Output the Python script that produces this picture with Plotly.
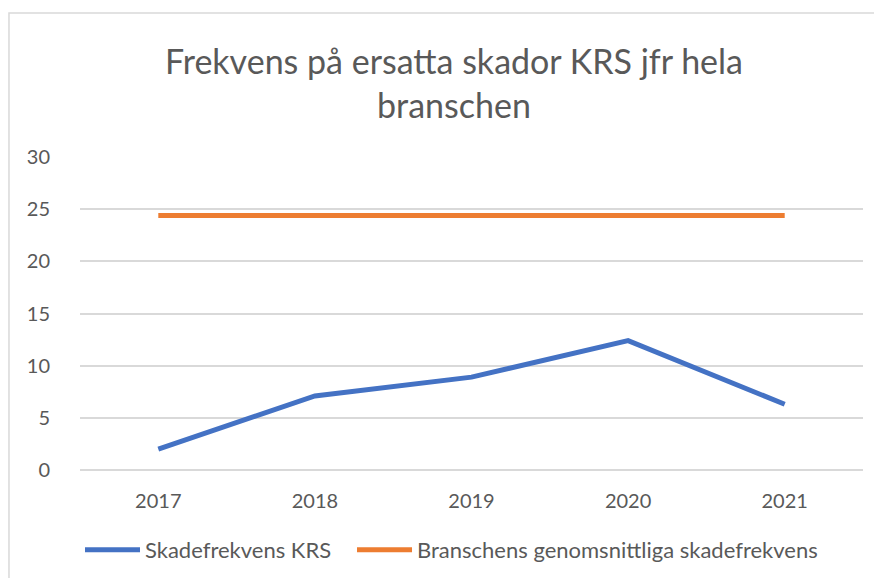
import plotly.graph_objects as go

years = ["2017", "2018", "2019", "2020", "2021"]
krs = [2.0, 7.1, 8.9, 12.4, 6.3]
bransch = [24.4, 24.4, 24.4, 24.4, 24.4]
y_ticks = [0, 5, 10, 15, 20, 25, 30]

font_family = "Lato, 'Open Sans', sans-serif"
grey_text = "#595959"

fig = go.Figure()
fig.add_trace(go.Scatter(x=years, y=krs, mode="lines", name="Skadefrekvens KRS",
                         line=dict(color="#4472C4", width=5), legend="legend"))
fig.add_trace(go.Scatter(x=years, y=bransch, mode="lines",
                         name="Branschens genomsnittliga skadefrekvens",
                         line=dict(color="#ED7D31", width=5), legend="legend2"))

legend_common = dict(orientation="h", xanchor="left", yref="container",
                     y=0.049, yanchor="middle",
                     font=dict(size=22, color=grey_text), itemwidth=55)

fig.update_layout(
    width=866, height=570,
    paper_bgcolor="white", plot_bgcolor="white",
    margin=dict(l=72, r=11, t=149, b=108),
    font=dict(family=font_family, color=grey_text, size=20),
    title=dict(text="Frekvens på ersatta skador KRS jfr hela<br>branschen",
               x=0.515, xanchor="center", y=0.885, yanchor="top",
               font=dict(size=34, color=grey_text)),
    showlegend=True,
    legend=dict(x=0.0, **legend_common),
    legend2=dict(x=0.3474, **legend_common),
    shapes=[dict(type="rect", xref="paper", yref="paper", x0=-0.0907, x1=1.2,
                 y0=-0.6, y1=1.46, line=dict(color="#D9D9D9", width=1.5))],
)
fig.update_xaxes(range=[-0.5, 4.5], showgrid=False, showline=False, ticks="",
                 tickfont=dict(size=20), ticklabelstandoff=17)
fig.update_yaxes(range=[0, 30], tickvals=y_ticks, showgrid=True, gridcolor="#D9D9D9",
                 gridwidth=1.5, zeroline=True, zerolinecolor="#D9D9D9", zerolinewidth=1.5,
                 showline=False, ticks="", ticklabelstandoff=29,
                 tickfont=dict(size=20))

fig.write_html("out.html")
